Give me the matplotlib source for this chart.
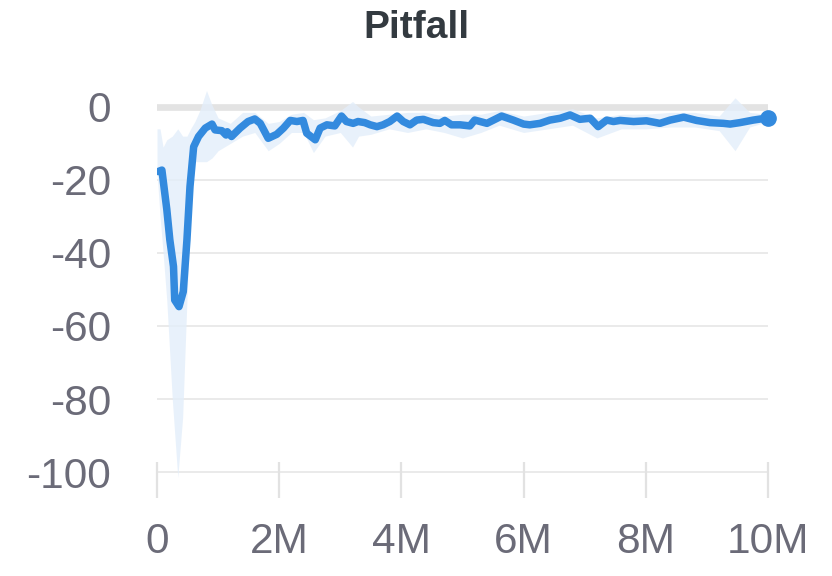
import matplotlib.pyplot as plt

plt.rcParams['font.family'] = ['Liberation Sans', 'DejaVu Sans']

# mean return curve (steps in millions)
steps = [0.02, 0.08, 0.16, 0.21, 0.27, 0.29, 0.36, 0.43, 0.49, 0.54, 0.6, 0.68,
         0.79, 0.9, 0.95, 1.06, 1.13, 1.15, 1.22, 1.36, 1.49, 1.6, 1.69, 1.82,
         1.96, 2.07, 2.18, 2.29, 2.39, 2.45, 2.59, 2.67, 2.78, 2.91, 3.02, 3.1,
         3.21, 3.29, 3.4, 3.49, 3.6, 3.7, 3.81, 3.93, 4.03, 4.14, 4.25, 4.36,
         4.52, 4.63, 4.71, 4.82, 4.96, 5.12, 5.2, 5.4, 5.64, 5.83, 6.0, 6.1,
         6.27, 6.43, 6.6, 6.76, 6.92, 7.09, 7.22, 7.36, 7.47, 7.58, 7.8, 8.01,
         8.23, 8.4, 8.62, 8.83, 9.05, 9.27, 9.38, 9.54, 9.76, 10.0]
mean_ret = [-17.7, -17.3, -28, -36.4, -43.7, -52.9, -54.7, -50.6, -36.4, -21.8,
            -10.9, -8.1, -5.8, -4.7, -6.3, -6.5, -7.7, -6.8, -8.1, -5.8, -4.0,
            -3.3, -4.5, -8.6, -7.5, -5.8, -3.7, -4.0, -3.7, -7.2, -9.0, -5.8,
            -4.9, -5.2, -2.5, -4.0, -4.5, -4.0, -4.3, -4.9, -5.4, -4.9, -4.0,
            -2.5, -4.0, -4.9, -3.6, -3.4, -4.3, -4.5, -3.7, -4.9, -4.9, -5.2,
            -3.6, -4.5, -2.5, -3.6, -4.7, -4.9, -4.5, -3.6, -3.1, -2.2, -3.4,
            -3.1, -5.4, -3.6, -4.0, -3.7, -4.0, -3.8, -4.5, -3.6, -2.8, -3.7,
            -4.3, -4.5, -4.7, -4.3, -3.6, -3.0]

# shaded spread
band_steps = [0.0, 0.05, 0.1, 0.16, 0.25, 0.34, 0.42, 0.49, 0.55, 0.62,
              0.7, 0.81, 0.9, 1.0, 1.2, 1.4, 1.6, 1.82, 2.0, 2.2,
              2.4, 2.56, 2.75, 3.0, 3.2, 3.3, 3.5, 3.8, 4.1, 4.4,
              4.7, 5.0, 5.3, 5.6, 6.0, 6.4, 6.8, 7.2, 7.6, 8.0,
              8.4, 8.8, 9.2, 9.46, 9.7, 10.0]
band_upper = [-6, -6, -11, -9, -8, -6, -8, -8, -6, -4,
              -1, 4.5, 0.5, -3, -4.5, -1.5, -1.5, -4.5, -4, -2,
              -1.5, -3.5, -3, -1, 1.5, 0, -2.5, -2, -1.5, -1.5,
              -2.5, -2, -2, -1, -2.5, -1.5, -0.5, -3, -2, -2,
              -1.5, -1.5, -2.5, 2.5, -1.5, -2]
band_lower = [-18, -30, -40, -53, -80, -101.5, -85, -53, -28, -15,
              -15, -15, -14, -12, -10, -8, -7, -12, -10, -7,
              -7, -12.5, -8, -7, -11, -8, -7.5, -6, -7, -6,
              -7, -8.5, -7, -5, -7, -6, -5, -8.5, -6, -6,
              -5.5, -5.5, -6.5, -12, -5.5, -4]

x_ticks = [0, 2, 4, 6, 8, 10]
x_labels = ['0', '2M', '4M', '6M', '8M', '10M']
y_ticks = [0, -20, -40, -60, -80, -100]
y_labels = ['0', '-20', '-40', '-60', '-80', '-100']

fig = plt.figure(figsize=(8.32, 5.76), dpi=100)
ax = fig.add_axes([0.1887, 0.1675, 0.7344, 0.6849])

line_color = '#338ade'
grey_txt = '#6b6b78'

# grid
for y in y_ticks[1:]:
    ax.axhline(y, color='#e6e6e6', linewidth=1.2, zorder=0)
ax.axhline(0, color='#e3e3e3', linewidth=4.8, zorder=0)

ax.fill_between(band_steps, band_lower, band_upper, color='#e3eefa', alpha=0.8,
                linewidth=0, zorder=1)
ax.plot(steps, mean_ret, color=line_color, linewidth=5.4, solid_joinstyle='round',
        solid_capstyle='round', zorder=3)
ax.plot(steps[-1], mean_ret[-1], 'o', color=line_color, markersize=11,
        clip_on=False, zorder=4)

ax.set_xlim(0, 10)
ax.set_ylim(-102.05, 6)

ax.set_xticks(x_ticks)
ax.set_xticklabels(x_labels)
ax.set_yticks(y_ticks)
ax.set_yticklabels(y_labels)

ax.tick_params(axis='x', direction='inout', length=26.5, width=1.6, color='#e2e2e2',
               labelsize=30.5, labelcolor=grey_txt, pad=17)
ax.tick_params(axis='y', length=0, labelsize=30.5, labelcolor=grey_txt, pad=33)

for s in ax.spines.values():
    s.set_visible(False)

fig.text(0.5, 1 - 38 / 576, 'Pitfall', ha='center', va='baseline',
         fontsize=28, fontweight='bold', color='#333a40')

plt.savefig('out.png', dpi=100)
